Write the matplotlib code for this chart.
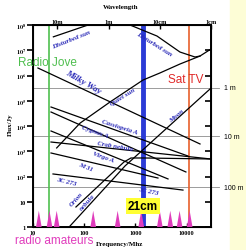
import matplotlib
matplotlib.use('Agg')
import matplotlib.pyplot as plt
from matplotlib.patches import Rectangle
from matplotlib.transforms import blended_transform_factory

plt.rcParams['font.family'] = 'Liberation Serif'
plt.rcParams['mathtext.fontset'] = 'stix'

# Source spectra (frequency in MHz, flux in Jy)
dist_sun_low_freq = [25, 119]
dist_sun_low_flux = [3.4e7, 1e8]
dist_sun_high_freq = [785, 2640, 7430, 14600, 18300]
dist_sun_high_flux = [1e8, 3.66e7, 8.5e6, 5.4e6, 5.9e6]
quiet_sun_freq = [29, 83, 319, 1406, 3020, 7430, 18300, 30000]
quiet_sun_flux = [1350, 13000, 89000, 6.6e5, 1.26e6, 2.85e6, 5.9e6, 1.12e7]
milky_way_freq = [12.5, 18300]
milky_way_flux = [1.98e6, 1940]
cas_a_freq = [22.5, 10600]
cas_a_flux = [56500, 650]
cyg_a_freq = [22.5, 9700]
cyg_a_flux = [35800, 151]
crab_freq = [22.5, 30000]
crab_flux = [2320, 493]
virgo_a_freq = [22.5, 4340]
virgo_a_flux = [6340, 80]
m31_freq = [22.5, 2760]
m31_flux = [853, 87]
c3c273_freq = [24.6, 8500]
c3c273_flux = [126, 29]
orion_freq = [69, 598, 820, 1540, 30000]
orion_flux = [6.2, 375, 541, 541, 493]
moon_freq = [53, 627, 28600]
moon_flux = [1.1, 261, 2.9e5]

# observing bands
radio_jove_freq = 20.5
sat_tv_freq = 11000
hi_line_freq = 1420
ham_band_freq = [13, 21, 29, 150, 450, 1300, 3000, 4800, 7300, 11500]
ham_spike_flux = 4.4

# antenna size levels on the right
antenna_flux = [3.2e5, 4000, 38]
antenna_labels = ['1 m', '10 m', '100 m']

# axis ticks
freq_ticks = [10, 100, 1000, 10000]
flux_ticks = [1, 10, 1e2, 1e3, 1e4, 1e5, 1e6, 1e7, 1e8]
flux_tick_labels = ['1', '10'] + [r'$\mathbf{10^{%d}}$' % i for i in range(2, 9)]
wave_tick_freq = [30, 300, 3000, 30000]
wave_tick_labels = ['10m', '1m', '10cm', '1cm']

# labels: text, freq, flux, rotation, size
source_labels = [
    ('Disturbed sun', 55, 2.8e7, 22, 5),
    ('Disturbed sun', 2300, 1.8e7, -32, 5),
    ('Milky Way', 95, 6e5, -30, 6.5),
    ('Quiet sun', 573, 1.55e5, 32, 5),
    ('Cassiopeia A', 500, 1e4, -18, 5),
    ('Cygnus A', 163, 6300, -19, 5),
    ('Crab nebula', 400, 1600, -10, 5),
    ('Virgo A', 233, 650, -20, 5),
    ('M 31', 108, 260, -22, 5),
    ('3C 273', 44, 66, -14, 5),
    ('3C 273', 1760, 27, -12, 5),
    ('Orion', 69, 13, 48, 5),
    ('nebula', 117, 9.8, 48, 5),
    ('Moon', 6500, 27000, 40, 5),
]

fig = plt.figure(figsize=(2.46, 2.51), dpi=100)
# pale yellow strip on the right, kept behind everything
fig.patches.append(Rectangle((230 / 246, 0), 16 / 246, 1, transform=fig.transFigure,
                             color='#fdfdd6', zorder=-5))
ax = fig.add_axes([33 / 246, 23 / 251, 178 / 246, 202 / 251])
ax.set_xscale('log')
ax.set_yscale('log')
ax.set_xlim(10, 30000)
ax.set_ylim(1, 1e8)

# antenna level lines (run a little past the frame)
tr = blended_transform_factory(fig.transFigure, ax.transData)
for fl, lab in zip(antenna_flux, antenna_labels):
    ax.plot([10, 43000], [fl, fl], color='#8c8c8c', lw=0.6, clip_on=False, zorder=1)
    ax.text(224 / 246, fl, lab, transform=tr, fontsize=5, family='Liberation Sans',
            va='center', ha='left')

# band markers
ax.axvline(radio_jove_freq, color='#4fc04f', lw=1.2, zorder=2)
ax.axvline(sat_tv_freq, color='#e8602c', lw=1.2, zorder=2)
ax.axvline(hi_line_freq, color='#2b3bd6', lw=3.5, zorder=2)
for f in ham_band_freq:
    ax.fill([f / 10 ** 0.055, f, f * 10 ** 0.055], [1, ham_spike_flux, 1],
            color='#e03cbc', lw=0, zorder=3)

# spectra
for fx, fy in [(dist_sun_low_freq, dist_sun_low_flux), (dist_sun_high_freq, dist_sun_high_flux),
               (quiet_sun_freq, quiet_sun_flux), (milky_way_freq, milky_way_flux),
               (cas_a_freq, cas_a_flux), (cyg_a_freq, cyg_a_flux), (crab_freq, crab_flux),
               (virgo_a_freq, virgo_a_flux), (m31_freq, m31_flux), (c3c273_freq, c3c273_flux),
               (orion_freq, orion_flux), (moon_freq, moon_flux)]:
    ax.plot(fx, fy, color='black', lw=0.9, zorder=4)

for txt, fx, fy, rot, fs in source_labels:
    ax.text(fx, fy, txt, rotation=rot, fontsize=fs, color='#2a2ab8', fontweight='bold',
            fontstyle='italic', ha='center', va='center', zorder=5,
            rotation_mode='anchor')

# axes styling
for s in ax.spines.values():
    s.set_linewidth(1.4)
ax.minorticks_off()
ax.set_xticks(freq_ticks)
ax.set_xticklabels([str(t) for t in freq_ticks], fontsize=4.5, fontweight='bold')
ax.set_yticks(flux_ticks)
ax.set_yticklabels(flux_tick_labels, fontsize=4.5, fontweight='bold')
ax.tick_params(axis='y', left=True, right=True, direction='out', length=4, width=1.2, pad=1)
ax.tick_params(axis='x', direction='in', length=3, width=1, pad=2)
for t in ax.yaxis.get_ticklines()[1::2]:
    t.set_marker(0)  # right side ticks point inward

ax_top = ax.twiny()
ax_top.set_xscale('log')
ax_top.set_xlim(10, 30000)
ax_top.minorticks_off()
ax_top.set_xticks(wave_tick_freq)
ax_top.set_xticklabels(wave_tick_labels, fontsize=4.5, fontweight='bold')
ax_top.tick_params(axis='x', direction='in', length=3, width=1, pad=1)

# text annotations
fig.text(121 / 246, 1 - 8 / 251, 'Wavelength', fontsize=5, fontweight='bold', ha='center', va='center')
fig.text(120 / 246, 1 - 245 / 251, 'Frequency/Mhz', fontsize=5, fontweight='bold', ha='center', va='center')
fig.text(10 / 246, 1 - 125 / 251, 'Flux/Jy', fontsize=5, fontweight='bold', rotation=90,
         ha='center', va='center')
fig.text(47 / 246, 1 - 63 / 251, 'Radio Jove', fontsize=8.5, color='#4fbf4f',
         family='Liberation Sans', ha='center', va='center')
fig.text(186 / 246, 1 - 80 / 251, 'Sat TV', fontsize=8.5, color='#e02828',
         family='Liberation Sans', ha='center', va='center')
fig.text(54 / 246, 1 - 241 / 251, 'radio amateurs', fontsize=8.5, color='#e03cbc',
         family='Liberation Sans', ha='center', va='center')
ax.text(hi_line_freq, 6.8, '21cm', fontsize=8.5, fontweight='bold', family='Liberation Sans',
        ha='center', va='center', zorder=6,
        bbox=dict(boxstyle='square,pad=0.15', fc='#ffff33', ec='none'))

fig.savefig('out.png', dpi=100)
